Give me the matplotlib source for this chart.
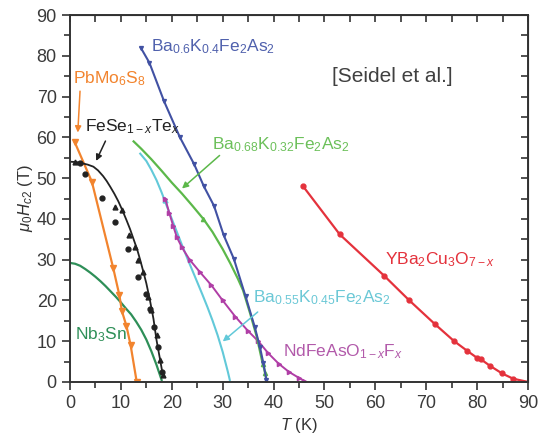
import matplotlib
matplotlib.use('Agg')
import matplotlib.pyplot as plt

plt.rcParams['font.family'] = ['Liberation Sans', 'DejaVu Sans']
plt.rcParams['mathtext.fontset'] = 'custom'
plt.rcParams['mathtext.rm'] = 'Liberation Sans'
plt.rcParams['mathtext.it'] = 'Liberation Sans:italic'
plt.rcParams['mathtext.bf'] = 'Liberation Sans:bold'

# Datos (T en K, Hc2 en T)
# YBa2Cu3O7-x
ybco_T = [45.8, 53.0, 61.7, 66.6, 71.7, 75.5, 78.1, 79.9, 80.7, 82.5, 84.9, 87.1]
ybco_H = [48.0, 36.2, 26.1, 20.1, 14.2, 10.0, 7.6, 6.0, 5.6, 4.0, 2.1, 0.8]
ybco_fin_T = [87.1, 89.7]
ybco_fin_H = [0.8, 0.1]

# Ba0.6K0.4Fe2As2
b06_T = [13.9, 15.6, 18.5, 21.6, 24.4, 26.3, 28.3, 30.2, 32.2, 34.5, 36.3, 37.3, 38.0, 38.6]
b06_H = [82.0, 78.3, 68.8, 60.0, 53.4, 48.0, 43.2, 36.0, 30.2, 21.0, 13.5, 8.7, 4.6, 0.5]

# Ba0.68K0.32Fe2As2 (curva y marcadores)
b068_curva_T = [12.5, 14.0, 16.0, 18.0, 20.0, 22.0, 24.0, 26.2, 28.0, 30.0, 31.5, 33.0, 34.0, 35.4, 36.7, 37.7, 38.2, 38.6]
b068_curva_H = [59.0, 57.2, 54.6, 51.8, 48.9, 46.2, 43.3, 40.0, 36.8, 32.6, 29.1, 25.3, 22.5, 16.8, 11.1, 5.4, 3.0, 0.5]
b068_T = [26.2, 37.9, 38.3]
b068_H = [40.0, 4.3, 2.2]

# Ba0.55K0.45Fe2As2
b055_curva_T = [13.8, 15.0, 16.0, 17.0, 18.0, 19.0, 20.0, 21.0, 22.0, 23.0, 24.0, 25.0, 26.0, 27.0, 28.0, 29.0, 30.0, 31.0, 31.4]
b055_curva_H = [56.0, 54.2, 52.0, 49.5, 46.5, 43.2, 40.0, 36.8, 33.6, 30.5, 27.5, 24.5, 21.5, 18.4, 15.1, 11.5, 7.4, 2.6, 0.5]
b055_T = [18.7]
b055_H = [44.6]

# NdFeAsO1-xFx
nd_T = [18.7, 19.5, 20.3, 21.0, 22.0, 23.5, 25.5, 27.8, 30.0, 32.5, 35.0, 37.0, 39.0, 41.0, 43.0, 45.0, 46.0]
nd_H = [45.0, 41.5, 38.2, 35.5, 33.0, 30.0, 27.0, 23.7, 20.0, 16.0, 12.5, 10.0, 7.0, 4.5, 2.5, 1.0, 0.3]

# FeSe1-xTex
fese_curva_T = [0.3, 1.5, 2.5, 3.5, 4.6, 5.5, 6.5, 7.2, 7.9, 8.7, 9.5, 10.3, 11.1, 11.8, 12.5, 13.2, 13.8, 14.4, 15.0, 15.7, 16.4, 17.0, 17.7, 18.3]
fese_curva_H = [54.0, 53.9, 53.6, 53.3, 52.8, 51.9, 50.5, 49.3, 47.9, 46.2, 44.3, 42.1, 39.7, 37.5, 35.0, 32.5, 29.9, 27.1, 24.2, 20.1, 15.5, 10.3, 5.5, 1.3]
fese_tri_T = [1.0, 8.8, 10.2, 11.5, 12.8, 13.3, 14.4, 15.4, 16.0, 17.0, 17.7, 18.3]
fese_tri_H = [54.0, 42.8, 42.2, 36.0, 33.2, 29.9, 27.0, 20.9, 17.6, 11.5, 5.4, 1.7]
fese_circ_T = [2.0, 2.9, 6.2, 8.8, 11.3, 13.4, 15.0, 15.8, 16.6, 17.3, 18.0]
fese_circ_H = [53.6, 51.0, 45.2, 39.3, 32.6, 25.8, 21.5, 18.0, 13.5, 8.5, 2.5]

# PbMo6S8
pb_T = [0.9, 4.3, 8.5, 9.7, 10.2, 11.1, 11.9, 13.1]
pb_H = [58.9, 49.1, 27.9, 21.3, 17.4, 13.7, 9.1, 0.1]

# Nb3Sn
nb_T = [0.0, 1.0, 2.0, 3.0, 4.0, 5.0, 6.0, 7.0, 8.0, 9.0, 10.0, 11.0, 12.0, 13.0, 14.0, 15.0, 16.0, 17.0, 18.0]
nb_H = [29.2, 29.0, 28.5, 27.7, 26.8, 25.8, 24.7, 23.5, 22.2, 20.9, 19.5, 18.0, 16.6, 14.8, 12.8, 10.4, 7.5, 4.2, 0.5]

c_azul = '#4151a3'
c_verde = '#5cb84a'
c_cian = '#62c9d9'
c_mag = '#b03ea6'
c_neg = '#222222'
c_nar = '#f2842e'
c_nb = '#2e8f58'
c_rojo = '#e4323c'

fig = plt.figure(figsize=(5.41, 4.37), dpi=100)
ax = fig.add_axes([70 / 541, 1 - 382 / 437, (528 - 70) / 541, (382 - 15) / 437])

# Curvas
ax.plot(nb_T, nb_H, color=c_nb, lw=1.6)
ax.plot(pb_T, pb_H, color=c_nar, lw=1.6, marker='v', ms=5)
ax.plot(fese_curva_T, fese_curva_H, color=c_neg, lw=1.3)
ax.plot(fese_tri_T, fese_tri_H, ls='none', color=c_neg, marker='^', ms=3.5)
ax.plot(fese_circ_T, fese_circ_H, ls='none', color=c_neg, marker='o', ms=3.5)
ax.plot(b055_curva_T, b055_curva_H, color=c_cian, lw=1.5)
ax.plot(b055_T, b055_H, ls='none', color=c_cian, marker='^', ms=3.5)
ax.plot(nd_T, nd_H, color=c_mag, lw=1.4, marker='>', ms=3)
ax.plot(b068_curva_T, b068_curva_H, color=c_verde, lw=1.6)
ax.plot(b068_T, b068_H, ls='none', color=c_verde, marker='^', ms=3)
ax.plot(b06_T, b06_H, color=c_azul, lw=1.5, marker='v', ms=2.8)
ax.plot(ybco_T, ybco_H, color=c_rojo, lw=1.6, marker='o', ms=3.5)
ax.plot(ybco_fin_T, ybco_fin_H, color=c_rojo, lw=1.6)

# Etiquetas
fs = 12.5
ax.text(16.0, 82.2, r'Ba$_{0.6}$K$_{0.4}$Fe$_2$As$_2$', color='#5061ad', fontsize=fs, va='center')
ax.text(0.6, 74.5, r'PbMo$_6$S$_8$', color=c_nar, fontsize=fs, va='center')
ax.text(3.0, 62.5, r'FeSe$_{1-x}$Te$_x$', color=c_neg, fontsize=fs, va='center')
ax.text(28.0, 58.3, r'Ba$_{0.68}$K$_{0.32}$Fe$_2$As$_2$', color='#6cc05a', fontsize=fs, va='center')
ax.text(36.0, 20.6, r'Ba$_{0.55}$K$_{0.45}$Fe$_2$As$_2$', color='#6bc8d6', fontsize=fs, va='center')
ax.text(41.9, 7.4, r'NdFeAsO$_{1-x}$F$_x$', color='#b25aaa', fontsize=fs, va='center')
ax.text(61.9, 29.9, r'YBa$_2$Cu$_3$O$_{7-x}$', color=c_rojo, fontsize=fs, va='center')
ax.text(1.0, 11.5, r'Nb$_3$Sn', color=c_nb, fontsize=fs, va='center')
ax.text(51.4, 74.8, '[Seidel et al.]', color='#404040', fontsize=15, va='center')

# Flechas
flecha = dict(arrowstyle='-|>', lw=1.1, mutation_scale=9)
ax.annotate('', xy=(1.5, 60.5), xytext=(2.0, 72.0), arrowprops=dict(flecha, color=c_nar))
ax.annotate('', xy=(4.9, 53.6), xytext=(7.2, 59.7), arrowprops=dict(flecha, color=c_neg))
ax.annotate('', xy=(21.6, 47.0), xytext=(29.8, 56.0), arrowprops=dict(flecha, color=c_verde))
ax.annotate('', xy=(29.6, 9.5), xytext=(37.3, 17.6), arrowprops=dict(flecha, color=c_cian))

ax.set_xlim(0, 90)
ax.set_ylim(0, 90)
ax.set_xticks(range(0, 91, 10))
ax.set_yticks(range(0, 91, 10))
ax.set_xticks(range(5, 90, 10), minor=True)
ax.set_yticks(range(5, 90, 10), minor=True)

gris = '#333333'
for s in ax.spines.values():
    s.set_color(gris)
    s.set_linewidth(1.4)
ax.tick_params(which='both', direction='out', color=gris, width=1.2, labelsize=13, labelcolor='#3a3a3a')
ax.tick_params(which='major', length=6)
ax.tick_params(which='minor', length=4)

arriba = ax.secondary_xaxis('top')
arriba.set_xticks(range(0, 91, 5))
arriba.tick_params(direction='in', length=5, width=1.2, color=gris, labeltop=False)
derecha = ax.secondary_yaxis('right')
derecha.set_yticks(range(0, 91, 5))
derecha.tick_params(direction='in', length=5, width=1.2, color=gris, labelright=False)

ax.set_xlabel(r'$T$ (K)', fontsize=12, color=gris, labelpad=3)
ax.set_ylabel(r'$\mu_0H_{c2}$ (T)', fontsize=12, color=gris, labelpad=1)

fig.savefig('out.png', dpi=100)
